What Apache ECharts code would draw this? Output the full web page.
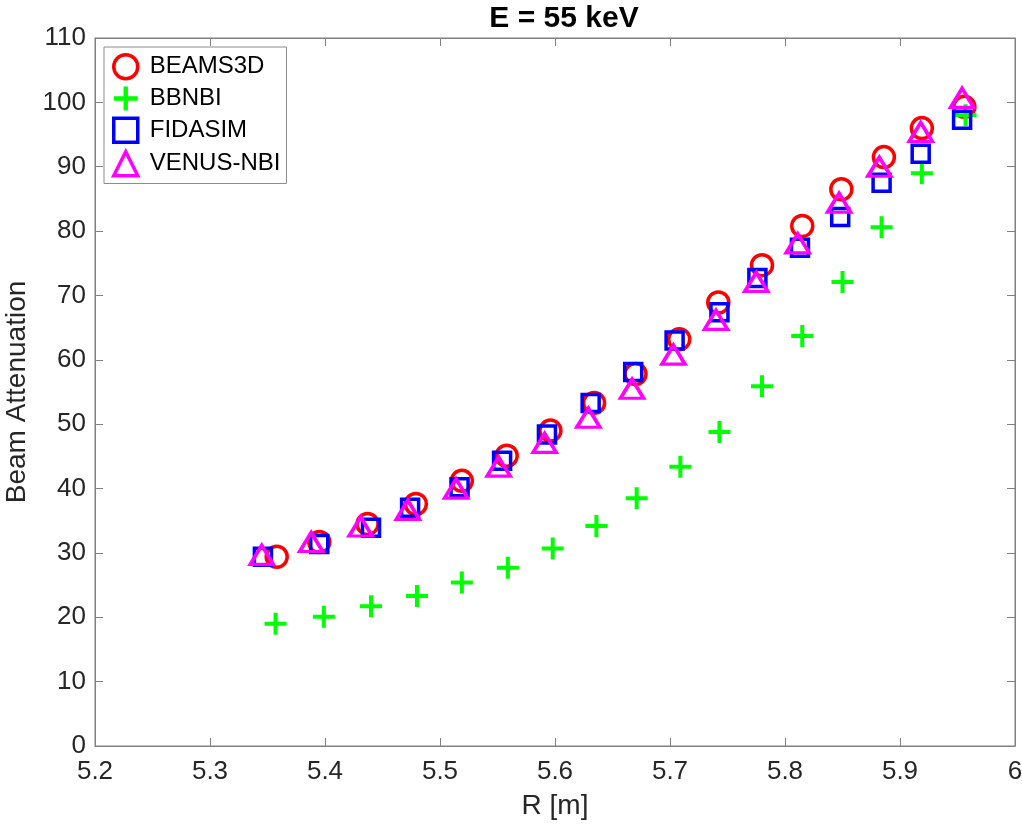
<!DOCTYPE html>
<html>
<head>
<meta charset="utf-8">
<script src="https://cdn.jsdelivr.net/npm/echarts@6/dist/echarts.min.js"></script>
<style>
  html, body { margin: 0; padding: 0; background: #fff; }
  #chart { width: 1022px; height: 829px; }
</style>
</head>
<body>
<div id="chart"></div>
<script>
// values
const beams3dR = [5.358, 5.395, 5.437, 5.479, 5.519, 5.558, 5.596, 5.634, 5.670, 5.708, 5.742, 5.780, 5.815, 5.849, 5.886, 5.919, 5.956]
const beams3dA = [29.4, 31.7, 34.5, 37.6, 41.2, 45.1, 49.0, 53.3, 57.8, 63.2, 68.9, 74.7, 80.8, 86.5, 91.5, 96.0, 99.3]

const bbnbiR = [5.357, 5.399, 5.440, 5.480, 5.519, 5.559, 5.598, 5.636, 5.671, 5.709, 5.743, 5.780, 5.815, 5.850, 5.884, 5.919, 5.957]
const bbnbiA = [19.0, 20.1, 21.7, 23.3, 25.4, 27.7, 30.7, 34.2, 38.5, 43.4, 48.8, 55.9, 63.7, 72.1, 80.6, 89.0, 98.0]

const fidasimR = [5.346, 5.395, 5.440, 5.474, 5.517, 5.554, 5.593, 5.631, 5.668, 5.704, 5.743, 5.776, 5.813, 5.848, 5.884, 5.918, 5.954]
const fidasimA = [29.4, 31.4, 33.9, 37.0, 40.2, 44.3, 48.4, 53.3, 58.1, 63.0, 67.4, 72.7, 77.4, 82.2, 87.5, 92.0, 97.3]

const venusR = [5.345, 5.388, 5.431, 5.472, 5.514, 5.551, 5.591, 5.629, 5.667, 5.703, 5.740, 5.775, 5.811, 5.847, 5.882, 5.918, 5.954]
const venusA = [29.7, 31.7, 34.1, 36.7, 40.0, 43.4, 47.1, 51.0, 55.5, 60.8, 66.2, 72.1, 78.1, 84.4, 90.0, 95.4, 100.7]

const pairs = (xs, ys) => xs.map((x, i) => [x, ys[i]])

const font = '"Liberation Sans", Arial, Helvetica, sans-serif'
const axisGray = '#808080'
const textDark = '#262626'
const plusPath = 'path://M9,0H13V9H22V13H13V22H9V13H0V9H9Z'

const styles = {
  BEAMS3D: { symbol: 'circle', symbolSize: 21, itemStyle: { color: 'rgba(0,0,0,0)', borderColor: '#ff0000', borderWidth: 3.5, opacity: 1 } },
  BBNBI: { symbol: plusPath, symbolSize: 22, itemStyle: { color: '#00ff00', borderWidth: 0, opacity: 1 } },
  FIDASIM: { symbol: 'rect', symbolSize: 17, itemStyle: { color: 'rgba(0,0,0,0)', borderColor: '#0000ff', borderWidth: 3.5, opacity: 1 } },
  'VENUS-NBI': { symbol: 'triangle', symbolSize: [23, 19], itemStyle: { color: 'rgba(0,0,0,0)', borderColor: '#ff00ff', borderWidth: 3.5, opacity: 1 } },
}

const mkSeries = (name, data) => ({
  name,
  type: 'scatter',
  data,
  ...styles[name],
  emphasis: { disabled: true },
  animation: false,
})

const tickAxis = {
  axisLine: { show: true, onZero: false, lineStyle: { color: axisGray } },
  axisTick: { show: true, inside: true, length: 8, lineStyle: { color: axisGray } },
  splitLine: { show: false },
}

const chart = echarts.init(document.getElementById('chart'))
chart.setOption({
  backgroundColor: '#ffffff',
  title: {
    text: 'E = 55 keV',
    left: 559,
    top: -1,
    textAlign: 'center',
    textStyle: { fontFamily: font, fontSize: 30, fontWeight: 'bold', color: '#000' },
  },
  grid: {
    left: 95,
    right: 7,
    top: 38,
    bottom: 83,
    outerBoundsMode: 'none',
    containLabel: false,
    show: true,
    borderColor: axisGray,
    borderWidth: 1,
  },
  legend: {
    orient: 'vertical',
    left: 104,
    top: 47,
    padding: [6, 6, 6, 8],
    itemGap: 6,
    itemWidth: 24,
    itemHeight: 24,
    backgroundColor: '#fff',
    borderColor: '#8c8c8c',
    borderWidth: 1,
    borderRadius: 0,
    selectedMode: false,
    textStyle: { fontFamily: font, fontSize: 24, color: '#000', padding: [0, 0, 0, 7] },
    data: Object.keys(styles).map(n => ({
      name: n,
      icon: styles[n].symbol,
      itemStyle: styles[n].itemStyle,
    })),
  },
  xAxis: [{
    type: 'value',
    min: 5.2,
    max: 6,
    interval: 0.1,
    name: 'R [m]',
    nameLocation: 'middle',
    nameGap: 46,
    nameTextStyle: { fontFamily: font, fontSize: 28, color: textDark },
    ...tickAxis,
    axisLabel: {
      fontFamily: font, fontSize: 26, color: textDark, margin: 13,
      formatter: v => String(+v.toFixed(1)),
    },
  }, {
    type: 'value',
    position: 'top',
    min: 5.2,
    max: 6,
    interval: 0.1,
    ...tickAxis,
    axisLabel: { show: false },
  }],
  yAxis: [{
    type: 'value',
    min: 0,
    max: 110,
    interval: 10,
    name: 'Beam Attenuation',
    nameLocation: 'middle',
    nameGap: 55,
    nameTextStyle: { fontFamily: font, fontSize: 28, color: textDark },
    ...tickAxis,
    axisLabel: { fontFamily: font, fontSize: 26, color: textDark, margin: 9 },
  }, {
    type: 'value',
    position: 'right',
    min: 0,
    max: 110,
    interval: 10,
    ...tickAxis,
    axisLabel: { show: false },
  }],
  series: [
    mkSeries('BEAMS3D', pairs(beams3dR, beams3dA)),
    mkSeries('BBNBI', pairs(bbnbiR, bbnbiA)),
    mkSeries('FIDASIM', pairs(fidasimR, fidasimA)),
    mkSeries('VENUS-NBI', pairs(venusR, venusA)),
  ],
})
</script>
</body>
</html>
